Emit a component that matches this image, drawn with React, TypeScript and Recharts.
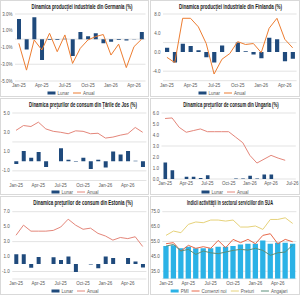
import React from 'react';
import { ComposedChart, Bar, Line, XAxis, YAxis, CartesianGrid } from 'recharts';

const MONTHS = [
  'Jan-25', 'Feb-25', 'Mar-25', 'Apr-25', 'May-25', 'Jun-25', 'Jul-25', 'Aug-25', 'Sep-25', 'Oct-25',
  'Nov-25', 'Dec-25', 'Jan-26', 'Feb-26', 'Mar-26', 'Apr-26', 'May-26', 'Jun-26', 'Jul-26',
];

// Germania - productie industriala (%)
const deLunar = [2.4, -1.25, 2.6, -2.5, -0.1, -0.1, 0.05, -2.0, 0.85, 0.35, 0.7, -0.5, -0.3, -0.1, -0.15, -0.05, 0.85];
const deAnual = [-0.5, -3.7, -0.1, -1.3, 0.7, -1.5, 0.5, -2.9, -1.1, -0.1, 0.3, 0.55, -1.9, -0.6, -3.4, -0.9, 0.0];

// Finlanda - productie industriala (%)
const fiLunar = [0.9, -2.2, 1.75, 1.3, 0.4, -1.1, -2.2, 1.4, 0, 2.0, 0.2, -0.5, -1.3, 3.0, 2.7, -1.9, -1.4];
const fiAnual = [-1.1, -2.2, 7.1, 7.1, 5.3, 1.8, -4.6, -1.5, -0.3, 2.2, 1.6, 1.8, -0.1, 5.0, 7.1, 2.7, 0.9];

// Tarile de Jos - preturi de consum (%)
const nlLunar = [-0.3, 1.05, 0.35, 0.95, -0.6, 0, 1.35, 0.15, -0.05, 0.35, -0.8, 0.15, -0.65, 1.0, 0.7, 1.05, 0.05, -0.6];
const nlAnual = [3.2, 3.7, 3.6, 4.05, 3.35, 3.1, 3.0, 2.85, 3.15, 3.1, 2.85, 2.9, 2.4, 2.5, 2.7, 2.85, 3.5, 3.0];

// Ungaria - preturi de consum (%)
const huLunar = [1.5, 0.8, null, 0.2, 0.2, 0.1, 0.35, null, null, null, 0.05, 0.05, 0.3, 0.05, 0.4, 0.4, null, null, null];
const huAnual = [5.5, 5.55, 4.7, 4.25, 4.4, 4.55, 4.3, 4.3, 4.3, 4.3, 3.8, 3.3, 2.15, 1.45, 1.8, 2.15, 1.9, 1.7, null];

// Estonia - preturi de consum (%)
const eeLunar = [1.3, 1.3, -0.5, 0.95, 0.0, 0.9, 0.55, 1.0, -1.05, 0, -0.05, -0.55, 1.0, 0.8, 0, 0.8, 0.35, -0.45];
const eeAnual = [3.85, 5.2, 4.4, 4.4, 4.4, 4.5, 4.95, 6.0, 5.2, 4.65, 4.8, 4.1, 3.75, 3.2, 3.55, 3.4, 3.65, 2.35];

// SUA - servicii
const usPmi = [51.9, 52.4, 50.4, 51.5, 50.4, 50.4, 50.4, 51.5, 51.5, 51.9, 53.0, 53.5, 53.5, 55.7, 53.5, 54.2, 54.2, 53.5];
const usComenzi = [53.5, 54.2, 48.6, 52.4, 50.4, 51.5, 50.4, 55.7, 50.8, 56.4, 54.2, 56.4, 53.5, 59.1, 60.2, 53.5, 56.4, 54.8];
const usPreturi = [59.1, 62.0, 60.9, 66.5, 68.1, 67.6, 69.4, 69.4, 68.7, 69.4, 64.7, 64.7, 65.4, 63.1, 69.8, 69.8, 70.9, 67.1];
const usAngajari = [51.9, 53.0, 48.6, 49.7, 46.3, 48.6, 47.4, 46.8, 47.9, 49.0, 49.7, 49.2, 50.4, 49.0, 45.7, 47.4, 47.9, 52.6];

const FONT = '"Liberation Sans", Arial, sans-serif';
const BAR = '#1f4a7c';
const ORANGE = '#ed7d31';
const SALMON = '#e4867a';
const XH = 8;

type Series = { key: string; name: string; kind: 'bar' | 'line'; color: string; values: (number | null)[] };

type PanelProps = {
  left: number;
  top: number;
  width: number;
  height: number;
  title: string;
  titleCx: number;
  titleW: number;
  n: number;
  series: Series[];
  domain: [number, number];
  yTicks: number[];
  fmt: (v: number) => string;
  plot: { top: number; bottom: number; left: number; right: number };
  xTicks: number[];
  legendCx: number;
  legendY: number;
  barSize: number;
};

function range(a: number, b: number, step: number) {
  const out: number[] = [];
  for (let v = a; v <= b + 1e-9; v += step) out.push(Math.round(v * 10) / 10);
  return out;
}

function Key({ series, cx, y, width }: { series: Series[]; cx: number; y: number; width: number }) {
  const gap = 4;
  const widths = series.map((s) => 10 + s.name.length * 2.3);
  const total = widths.reduce((a, b) => a + b, 0) + gap * (series.length - 1);
  let x = cx - total / 2;
  return (
    <svg width={width} height={10} style={{ position: 'absolute', left: 0, top: y - 5 }}>
      {series.map((s, i) => {
        const x0 = x;
        x += widths[i] + gap;
        return (
          <g key={s.key}>
            {s.kind === 'bar' ? (
              <rect x={x0} y={3.5} width={8} height={3} fill={s.color} />
            ) : (
              <line x1={x0} x2={x0 + 8} y1={5} y2={5} stroke={s.color} strokeWidth={1} />
            )}
            <text x={x0 + 10} y={6.6} fontFamily={FONT} fontSize={4.5} fill="#595959">
              {s.name}
            </text>
          </g>
        );
      })}
    </svg>
  );
}

// title text is squeezed horizontally, like the narrow bold font of the original
function Title({ text, cx, w, width }: { text: string; cx: number; w: number; width: number }) {
  const natural = text.length * 0.53 * 7;
  const sx = w / natural;
  return (
    <svg width={width} height={13} style={{ position: 'absolute', left: 0, top: 0 }}>
      <text
        transform={`translate(${cx} 8.6) scale(${sx.toFixed(3)} 1)`}
        textAnchor="middle"
        fontFamily={FONT}
        fontWeight="bold"
        fontSize={7}
        fill="#1a1a1a"
      >
        {text}
      </text>
    </svg>
  );
}

function Panel(p: PanelProps) {
  const data = MONTHS.slice(0, p.n).map((m, i) => {
    const row: Record<string, string | number | null> = { m };
    p.series.forEach((s) => {
      row[s.key] = s.values[i] ?? null;
    });
    return row;
  });
  const margin = {
    top: p.plot.top,
    left: 0,
    right: p.width - p.plot.right,
    bottom: p.height - p.plot.bottom - XH,
  };
  const tick = { fontSize: 4.5, fill: '#595959', fontFamily: FONT };
  return (
    <div
      style={{
        position: 'absolute',
        left: p.left,
        top: p.top,
        width: p.width,
        height: p.height,
        boxShadow: 'inset 0 0 0 1px #d9d9d9',
        background: '#fff',
      }}
    >
      <div style={{ position: 'absolute', left: 0, top: 0 }}>
        <ComposedChart width={p.width} height={p.height} data={data} margin={margin}>
          <CartesianGrid vertical={false} stroke="#e3e3e3" />
          <XAxis
            dataKey="m"
            interval={0}
            height={XH}
            tickSize={0}
            tickMargin={3}
            axisLine={false}
            tick={tick}
            tickFormatter={(v: string, i: number) => (p.xTicks.includes(i) ? v : '')}
          />
          <YAxis
            width={p.plot.left}
            domain={p.domain}
            ticks={p.yTicks}
            tickSize={0}
            tickMargin={2.5}
            axisLine={false}
            tick={tick}
            tickFormatter={p.fmt}
            allowDataOverflow
          />
          {p.series.map((s) =>
            s.kind === 'bar' ? (
              <Bar key={s.key} dataKey={s.key} name={s.name} fill={s.color} barSize={p.barSize} isAnimationActive={false} />
            ) : (
              <Line
                key={s.key}
                dataKey={s.key}
                name={s.name}
                stroke={s.color}
                strokeWidth={1}
                dot={false}
                type="linear"
                isAnimationActive={false}
              />
            ),
          )}
        </ComposedChart>
      </div>
      <Title text={p.title} cx={p.titleCx} w={p.titleW} width={p.width} />
      <Key series={p.series} cx={p.legendCx} y={p.legendY} width={p.width} />
    </div>
  );
}

const pct = (v: number) => `${v.toFixed(1)}%`;
const one = (v: number) => v.toFixed(1);
const QUARTERS = [0, 3, 6, 9, 12, 15];

export default function App() {
  return (
    <div style={{ position: 'relative', width: 300, height: 295, background: '#fff', overflow: 'hidden' }}>
      <style>{'body{margin:0}'}</style>
      <Panel
        left={0}
        top={0}
        width={149}
        height={97}
        title="Dinamica producţiei industriale din Germania (%)"
        titleCx={82}
        titleW={110}
        n={17}
        series={[
          { key: 'lunar', name: 'Lunar', kind: 'bar', color: BAR, values: deLunar },
          { key: 'anual', name: 'Anual', kind: 'line', color: ORANGE, values: deAnual },
        ]}
        domain={[-5, 3]}
        yTicks={range(-5, 3, 1)}
        fmt={pct}
        plot={{ top: 14, bottom: 81, left: 15, right: 145.5 }}
        xTicks={QUARTERS}
        legendCx={71}
        legendY={93}
        barSize={4}
      />
      <Panel
        left={150}
        top={0}
        width={150}
        height={97}
        title="Dinamica producţiei industriale din Finlanda (%)"
        titleCx={80.5}
        titleW={115}
        n={17}
        series={[
          { key: 'lunar', name: 'Lunar', kind: 'bar', color: BAR, values: fiLunar },
          { key: 'anual', name: 'Anual', kind: 'line', color: ORANGE, values: fiAnual },
        ]}
        domain={[-6, 8]}
        yTicks={range(-6, 8, 2)}
        fmt={one}
        plot={{ top: 14, bottom: 80.7, left: 13, right: 146.6 }}
        xTicks={QUARTERS}
        legendCx={72}
        legendY={93}
        barSize={4.2}
      />
      <Panel
        left={0}
        top={98}
        width={149}
        height={97}
        title="Dinamica preţurilor de consum din Ţările de Jos (%)"
        titleCx={83}
        titleW={118}
        n={18}
        series={[
          { key: 'lunar', name: 'Lunar', kind: 'bar', color: BAR, values: nlLunar },
          { key: 'anual', name: 'Anual', kind: 'line', color: SALMON, values: nlAnual },
        ]}
        domain={[-2, 5]}
        yTicks={range(-2, 5, 1)}
        fmt={one}
        plot={{ top: 15, bottom: 82.5, left: 12.3, right: 146.4 }}
        xTicks={QUARTERS}
        legendCx={75}
        legendY={94}
        barSize={4}
      />
      <Panel
        left={150}
        top={98}
        width={150}
        height={97}
        title="Dinamica preţurilor de consum din Ungaria (%)"
        titleCx={81}
        titleW={102}
        n={19}
        series={[
          { key: 'lunar', name: 'Lunar', kind: 'bar', color: BAR, values: huLunar },
          { key: 'anual', name: 'Anual', kind: 'line', color: SALMON, values: huAnual },
        ]}
        domain={[0, 6]}
        yTicks={range(0, 6, 1)}
        fmt={one}
        plot={{ top: 15, bottom: 81, left: 11.5, right: 145.8 }}
        xTicks={[0, 3, 6, 9, 12, 15, 18]}
        legendCx={75}
        legendY={94}
        barSize={3.6}
      />
      <Panel
        left={0}
        top={196}
        width={149}
        height={99}
        title="Dinamica preţurilor de consum din Estonia (%)"
        titleCx={83}
        titleW={107}
        n={18}
        series={[
          { key: 'lunar', name: 'Lunar', kind: 'bar', color: BAR, values: eeLunar },
          { key: 'anual', name: 'Anual', kind: 'line', color: SALMON, values: eeAnual },
        ]}
        domain={[-2, 7]}
        yTicks={range(-2, 7, 1)}
        fmt={one}
        plot={{ top: 15.7, bottom: 83, left: 12.3, right: 146.4 }}
        xTicks={QUARTERS}
        legendCx={75}
        legendY={94.5}
        barSize={4}
      />
      <Panel
        left={150}
        top={196}
        width={150}
        height={99}
        title="Indicii activităţii în sectorul serviciilor din SUA"
        titleCx={80}
        titleW={106}
        n={18}
        series={[
          { key: 'pmi', name: 'PMI', kind: 'bar', color: '#2bb2e6', values: usPmi },
          { key: 'comenzi', name: 'Comenzi noi', kind: 'line', color: '#e8694a', values: usComenzi },
          { key: 'preturi', name: 'Preturi', kind: 'line', color: '#e6d27a', values: usPreturi },
          { key: 'angajari', name: 'Angajari', kind: 'line', color: '#5b8f7b', values: usAngajari },
        ]}
        domain={[30, 75]}
        yTicks={range(30, 75, 5)}
        fmt={one}
        plot={{ top: 15.7, bottom: 82.7, left: 12.3, right: 146.4 }}
        xTicks={QUARTERS}
        legendCx={80}
        legendY={94.5}
        barSize={5.3}
      />
    </div>
  );
}
